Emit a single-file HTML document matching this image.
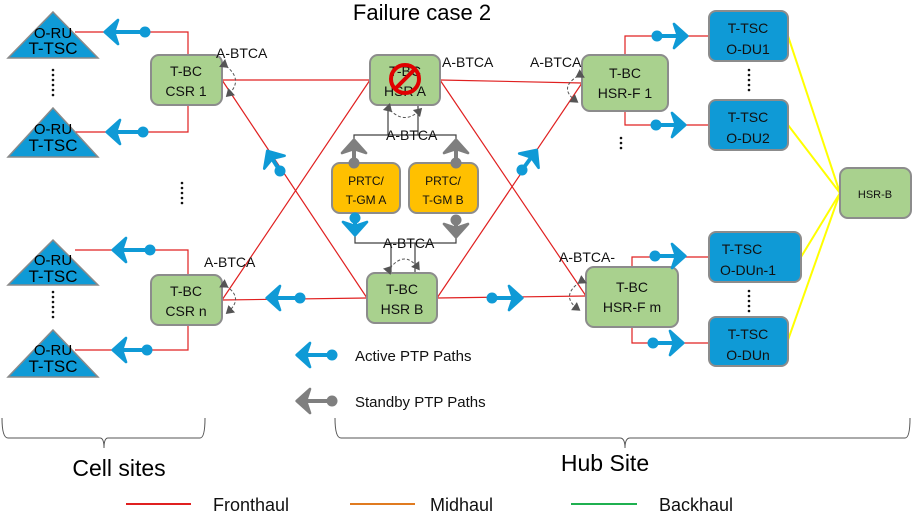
<!DOCTYPE html>
<html><head><meta charset="utf-8"><style>
body{margin:0;background:#fff}
svg{display:block;font-family:"Liberation Sans",sans-serif}
</style></head><body>
<svg width="912" height="512" viewBox="0 0 912 512" xmlns="http://www.w3.org/2000/svg">
<defs>
<marker id="ab" markerUnits="userSpaceOnUse" markerWidth="32" markerHeight="32" refX="12" refY="12" orient="auto" viewBox="0 0 24 24"><path d="M3,3 L13,12 L3,21 L6,12 Z" fill="#0f9ad6" stroke="#0f9ad6" stroke-width="2" stroke-linejoin="round"/></marker>
<marker id="ag" markerUnits="userSpaceOnUse" markerWidth="32" markerHeight="32" refX="12" refY="12" orient="auto" viewBox="0 0 24 24"><path d="M3,3 L13,12 L3,21 L6,12 Z" fill="#7f7f7f" stroke="#7f7f7f" stroke-width="2" stroke-linejoin="round"/></marker>
<marker id="sm" markerUnits="userSpaceOnUse" markerWidth="10" markerHeight="10" refX="5" refY="5" orient="auto" viewBox="0 0 10 10"><path d="M0,0 L8,5 L0,10 Z" fill="#555"/></marker>
</defs>
<text x="422" y="20" font-size="22" text-anchor="middle">Failure case 2</text>

<g stroke="#e02020" stroke-width="1.2" fill="none">
<polyline points="75,32 188,32 188,55"/>
<polyline points="75,132 188,132 188,105"/>
<polyline points="75,250 188,250 188,275"/>
<polyline points="75,350 188,350 188,325"/>
<line x1="222" y1="80" x2="370" y2="80"/>
<line x1="222" y1="80" x2="367" y2="298"/>
<line x1="222" y1="300" x2="367" y2="298"/>
<line x1="222" y1="300" x2="370" y2="80"/>
<line x1="440" y1="80" x2="582" y2="83"/>
<line x1="440" y1="80" x2="586" y2="296"/>
<line x1="437" y1="298" x2="582" y2="83"/>
<line x1="437" y1="298" x2="586" y2="296"/>
<polyline points="625,55 625,36 709,36"/>
<polyline points="625,111 625,125 709,125"/>
<polyline points="632,267 632,257 709,257"/>
<polyline points="632,327 632,343 709,343"/>
</g>
<g stroke="#ffff00" stroke-width="2">
<line x1="788" y1="36" x2="840" y2="193"/>
<line x1="788" y1="125" x2="840" y2="193"/>
<line x1="801" y1="257" x2="840" y2="193"/>
<line x1="788" y1="340" x2="840" y2="193"/>
</g>
<g stroke="#404040" stroke-width="1.2" fill="none">
<polyline points="354,150 354,135 456,135 456,150"/>
<line x1="388" y1="135" x2="388" y2="105"/>
<line x1="418" y1="135" x2="418" y2="105"/>
<polyline points="355,230 355,243 456,243 456,230"/>
<line x1="391" y1="243" x2="391" y2="273"/>
<line x1="415" y1="243" x2="415" y2="273"/>
</g>

<g fill="#0f9ad6" stroke="#8a8a8a" stroke-width="1.5">
<polygon points="53,12 98,58 8,58"/>
<polygon points="53,108 98,157 8,157"/>
<polygon points="53,240 98,285 8,285"/>
<polygon points="53,330 98,377 8,377"/>
</g>
<g font-size="15" text-anchor="middle">
<text x="53" y="38">O-RU</text><text x="53" y="54" font-size="17">T-TSC</text>
<text x="53" y="134">O-RU</text><text x="53" y="151" font-size="17">T-TSC</text>
<text x="53" y="265">O-RU</text><text x="53" y="282" font-size="17">T-TSC</text>
<text x="53" y="355">O-RU</text><text x="53" y="372" font-size="17">T-TSC</text>
</g>

<g fill="#a9d18e" stroke="#8c8c8c" stroke-width="2">
<rect x="151" y="55" width="71" height="50" rx="8"/>
<rect x="151" y="275" width="71" height="50" rx="8"/>
<rect x="370" y="55" width="70" height="50" rx="8"/>
<rect x="367" y="273" width="70" height="50" rx="8"/>
<rect x="582" y="55" width="86" height="56" rx="8"/>
<rect x="586" y="267" width="92" height="60" rx="8"/>
<rect x="840" y="168" width="71" height="50" rx="8"/>
</g>
<g fill="#ffc000" stroke="#8c8c8c" stroke-width="2">
<rect x="332" y="163" width="68" height="50" rx="8"/>
<rect x="409" y="163" width="69" height="50" rx="8"/>
</g>
<g fill="#0f9ad6" stroke="#8c8c8c" stroke-width="2">
<rect x="709" y="11" width="79" height="50" rx="7"/>
<rect x="709" y="100" width="79" height="50" rx="7"/>
<rect x="709" y="232" width="92" height="50" rx="7"/>
<rect x="709" y="317" width="79" height="49" rx="7"/>
</g>
<g font-size="14" text-anchor="middle" fill="#111">
<text x="186" y="76">T-BC</text><text x="186" y="96">CSR 1</text>
<text x="186" y="296">T-BC</text><text x="186" y="316">CSR n</text>
<text x="405" y="76">T-BC</text><text x="405" y="96">HSR A</text>
<text x="402" y="294">T-BC</text><text x="402" y="314">HSR B</text>
<text x="625" y="78">T-BC</text><text x="625" y="98">HSR-F 1</text>
<text x="632" y="292">T-BC</text><text x="632" y="312">HSR-F m</text>
<text x="875" y="198" font-size="11">HSR-B</text>
<text x="366" y="185" font-size="12">PRTC/</text><text x="366" y="204" font-size="12">T-GM  A</text>
<text x="443" y="185" font-size="12">PRTC/</text><text x="443" y="204" font-size="12">T-GM B</text>
<text x="748" y="33">T-TSC</text><text x="748" y="54">O-DU1</text>
<text x="748" y="122">T-TSC</text><text x="748" y="143">O-DU2</text>
<text x="742" y="254">T-TSC</text><text x="748" y="275">O-DUn-1</text>
<text x="748" y="339">T-TSC</text><text x="748" y="360">O-DUn</text>
</g>
<circle cx="405" cy="79" r="14" fill="none" stroke="#e00000" stroke-width="4"/>
<line x1="395" y1="89" x2="415" y2="69" stroke="#e00000" stroke-width="4"/>

<g font-size="14" fill="#111">
<text x="216" y="58">A-BTCA</text>
<text x="442" y="67">A-BTCA</text>
<text x="530" y="67">A-BTCA</text>
<text x="386" y="140">A-BTCA</text>
<text x="383" y="248">A-BTCA</text>
<text x="204" y="267">A-BTCA</text>
<text x="559" y="262">A-BTCA-</text>
</g>
<g stroke="#555" stroke-width="1" fill="none" stroke-dasharray="3,2">
<path d="M226,66 Q244,80 228,95" marker-start="url(#sm)" marker-end="url(#sm)"/>
<path d="M226,286 Q244,298 228,312" marker-start="url(#sm)" marker-end="url(#sm)"/>
<path d="M578,76 Q558,88 576,101" marker-start="url(#sm)" marker-end="url(#sm)"/>
<path d="M580,282 Q560,296 578,309" marker-start="url(#sm)" marker-end="url(#sm)"/>
<path d="M390,110 Q405,125 420,110" marker-start="url(#sm)" marker-end="url(#sm)"/>
<path d="M390,268 Q405,250 418,268" marker-start="url(#sm)" marker-end="url(#sm)"/>
</g>
<g fill="#111">
<circle cx="53" cy="70" r="1.3"/><circle cx="53" cy="75" r="1.3"/><circle cx="53" cy="80" r="1.3"/><circle cx="53" cy="85" r="1.3"/><circle cx="53" cy="90" r="1.3"/><circle cx="53" cy="95" r="1.3"/>
<circle cx="53" cy="292" r="1.3"/><circle cx="53" cy="297" r="1.3"/><circle cx="53" cy="302" r="1.3"/><circle cx="53" cy="307" r="1.3"/><circle cx="53" cy="312" r="1.3"/><circle cx="53" cy="317" r="1.3"/>
<circle cx="182" cy="183" r="1.3"/><circle cx="182" cy="188" r="1.3"/><circle cx="182" cy="193" r="1.3"/><circle cx="182" cy="198" r="1.3"/><circle cx="182" cy="203" r="1.3"/>
<circle cx="749" cy="70" r="1.3"/><circle cx="749" cy="75" r="1.3"/><circle cx="749" cy="80" r="1.3"/><circle cx="749" cy="85" r="1.3"/><circle cx="749" cy="90" r="1.3"/>
<circle cx="749" cy="291" r="1.3"/><circle cx="749" cy="296" r="1.3"/><circle cx="749" cy="301" r="1.3"/><circle cx="749" cy="306" r="1.3"/><circle cx="749" cy="311" r="1.3"/>
<circle cx="621" cy="138" r="1.3"/><circle cx="621" cy="143" r="1.3"/><circle cx="621" cy="148" r="1.3"/>
</g>

<g stroke="#0f9ad6" stroke-width="4" fill="#0f9ad6">
<line x1="145" y1="32" x2="106" y2="32" marker-end="url(#ab)"/><circle cx="145" cy="32" r="5.5" stroke="none"/>
<line x1="143" y1="132" x2="108" y2="132" marker-end="url(#ab)"/><circle cx="143" cy="132" r="5.5" stroke="none"/>
<line x1="150" y1="250" x2="114" y2="250" marker-end="url(#ab)"/><circle cx="150" cy="250" r="5.5" stroke="none"/>
<line x1="147" y1="350" x2="114" y2="350" marker-end="url(#ab)"/><circle cx="147" cy="350" r="5.5" stroke="none"/>
<line x1="280" y1="171" x2="268" y2="152" marker-end="url(#ab)"/><circle cx="280" cy="171" r="5.5" stroke="none"/>
<line x1="300" y1="298" x2="268" y2="298" marker-end="url(#ab)"/><circle cx="300" cy="298" r="5.5" stroke="none"/>
<line x1="492" y1="298" x2="521" y2="298" marker-end="url(#ab)"/><circle cx="492" cy="298" r="5.5" stroke="none"/>
<line x1="522" y1="170" x2="536" y2="151" marker-end="url(#ab)"/><circle cx="522" cy="170" r="5.5" stroke="none"/>
<line x1="657" y1="36" x2="686" y2="36" marker-end="url(#ab)"/><circle cx="657" cy="36" r="5.5" stroke="none"/>
<line x1="656" y1="125" x2="684" y2="125" marker-end="url(#ab)"/><circle cx="656" cy="125" r="5.5" stroke="none"/>
<line x1="655" y1="256" x2="684" y2="256" marker-end="url(#ab)"/><circle cx="655" cy="256" r="5.5" stroke="none"/>
<line x1="653" y1="343" x2="682" y2="343" marker-end="url(#ab)"/><circle cx="653" cy="343" r="5.5" stroke="none"/>
<line x1="355" y1="218" x2="355" y2="234" marker-end="url(#ab)"/><circle cx="355" cy="218" r="5.5" stroke="none"/>
<line x1="332" y1="355" x2="298" y2="355" marker-end="url(#ab)"/><circle cx="332" cy="355" r="5.5" stroke="none"/>
</g>
<g stroke="#7f7f7f" stroke-width="4" fill="#7f7f7f">
<line x1="354" y1="163" x2="354" y2="141" marker-end="url(#ag)"/><circle cx="354" cy="163" r="5.5" stroke="none"/>
<line x1="456" y1="163" x2="456" y2="141" marker-end="url(#ag)"/><circle cx="456" cy="163" r="5.5" stroke="none"/>
<line x1="456" y1="220" x2="456" y2="236" marker-end="url(#ag)"/><circle cx="456" cy="220" r="5.5" stroke="none"/>
<line x1="332" y1="401" x2="298" y2="401" marker-end="url(#ag)"/><circle cx="332" cy="401" r="5.5" stroke="none"/>
</g>
<g font-size="15" fill="#111">
<text x="355" y="361">Active PTP Paths</text>
<text x="355" y="407">Standby  PTP Paths</text>
</g>

<g stroke="#555" stroke-width="1" fill="none">
<path d="M2,418 Q2,438 8,438 L100,438 Q104,438 104,448 Q104,438 108,438 L200,438 Q205,438 205,418"/>
<path d="M335,418 Q335,438 341,438 L620,438 Q625,438 625,448 Q625,438 630,438 L905,438 Q910,438 910,418"/>
</g>
<text x="119" y="476" font-size="23" text-anchor="middle">Cell sites</text>
<text x="605" y="471" font-size="23" text-anchor="middle">Hub Site</text>
<g stroke-width="2">
<line x1="126" y1="504" x2="191" y2="504" stroke="#e02020"/>
<line x1="350" y1="504" x2="415" y2="504" stroke="#e07b20"/>
<line x1="571" y1="504" x2="637" y2="504" stroke="#1fb050"/>
</g>
<g font-size="18" fill="#111">
<text x="213" y="511">Fronthaul</text>
<text x="430" y="511">Midhaul</text>
<text x="659" y="511">Backhaul</text>
</g>
</svg>
</body></html>
